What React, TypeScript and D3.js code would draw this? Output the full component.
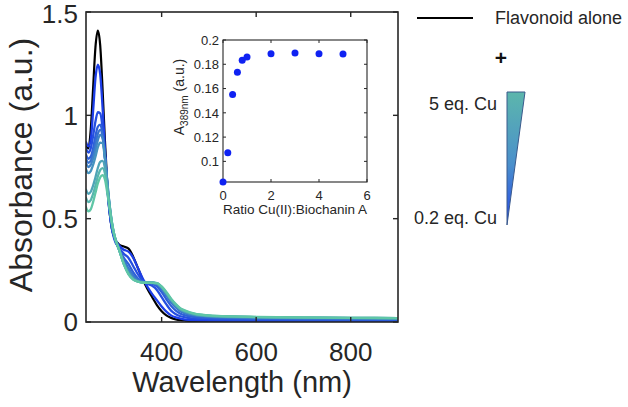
import React from "react";
import * as d3 from "d3";

// ---------- DATA ----------
const wavelengths = [240, 245, 250, 255, 260, 265, 270, 275, 280, 285, 290, 295, 300, 310, 320, 330, 340, 350, 360, 370, 380, 390, 400, 410, 420, 430, 440, 450, 470, 500, 550, 600, 700, 800, 900];

const flavonoidAlone = [0.85, 0.84, 0.93, 1.13, 1.33, 1.41, 1.34, 1.13, 0.88, 0.67, 0.53, 0.45, 0.41, 0.375, 0.365, 0.355, 0.315, 0.26, 0.205, 0.16, 0.12, 0.082, 0.052, 0.032, 0.02, 0.013, 0.009, 0.007, 0.005, 0.004, 0.003, 0.003, 0.002, 0.002, 0.002];

const cu02 = [0.87, 0.85, 0.88, 1.02, 1.18, 1.245, 1.2, 1.04, 0.84, 0.66, 0.53, 0.45, 0.41, 0.37, 0.35, 0.34, 0.31, 0.26, 0.21, 0.17, 0.135, 0.105, 0.075, 0.05, 0.032, 0.022, 0.016, 0.012, 0.009, 0.007, 0.006, 0.005, 0.004, 0.004, 0.004];
const cu04 = [0.84, 0.82, 0.84, 0.9, 0.97, 1.015, 1.01, 0.94, 0.8, 0.65, 0.53, 0.45, 0.4, 0.36, 0.33, 0.31, 0.27, 0.23, 0.2, 0.185, 0.175, 0.155, 0.12, 0.085, 0.055, 0.038, 0.028, 0.022, 0.016, 0.013, 0.011, 0.01, 0.009, 0.009, 0.008];
const cu06 = [0.81, 0.79, 0.8, 0.84, 0.9, 0.945, 0.955, 0.91, 0.8, 0.66, 0.54, 0.46, 0.41, 0.355, 0.31, 0.28, 0.24, 0.21, 0.195, 0.19, 0.185, 0.172, 0.145, 0.11, 0.078, 0.055, 0.04, 0.032, 0.024, 0.019, 0.016, 0.015, 0.013, 0.012, 0.012];
const cu08 = [0.79, 0.77, 0.78, 0.81, 0.86, 0.91, 0.93, 0.9, 0.8, 0.67, 0.55, 0.465, 0.41, 0.35, 0.3, 0.26, 0.225, 0.205, 0.195, 0.192, 0.19, 0.182, 0.16, 0.128, 0.095, 0.07, 0.052, 0.042, 0.031, 0.025, 0.021, 0.019, 0.017, 0.016, 0.015];
const cu10 = [0.77, 0.75, 0.76, 0.79, 0.83, 0.88, 0.905, 0.89, 0.8, 0.68, 0.56, 0.47, 0.415, 0.35, 0.29, 0.25, 0.215, 0.2, 0.193, 0.19, 0.19, 0.184, 0.165, 0.135, 0.102, 0.076, 0.057, 0.046, 0.034, 0.027, 0.023, 0.021, 0.019, 0.018, 0.017];
const cu20 = [0.74, 0.72, 0.73, 0.76, 0.8, 0.845, 0.868, 0.865, 0.79, 0.68, 0.565, 0.475, 0.42, 0.35, 0.285, 0.24, 0.21, 0.197, 0.192, 0.19, 0.19, 0.187, 0.168, 0.138, 0.106, 0.08, 0.06, 0.049, 0.036, 0.029, 0.025, 0.023, 0.02, 0.019, 0.018];
const cu30 = [0.64, 0.62, 0.63, 0.66, 0.7, 0.745, 0.775, 0.78, 0.745, 0.66, 0.565, 0.48, 0.42, 0.35, 0.28, 0.235, 0.207, 0.196, 0.191, 0.19, 0.19, 0.188, 0.17, 0.14, 0.108, 0.082, 0.062, 0.051, 0.038, 0.03, 0.026, 0.024, 0.021, 0.02, 0.019];
const cu40 = [0.6, 0.58, 0.59, 0.62, 0.66, 0.705, 0.735, 0.745, 0.72, 0.645, 0.56, 0.48, 0.42, 0.35, 0.28, 0.232, 0.205, 0.195, 0.19, 0.19, 0.19, 0.188, 0.17, 0.142, 0.11, 0.084, 0.064, 0.053, 0.039, 0.031, 0.027, 0.024, 0.021, 0.02, 0.019];
const cu50 = [0.555, 0.535, 0.545, 0.58, 0.625, 0.67, 0.7, 0.71, 0.69, 0.625, 0.55, 0.475, 0.42, 0.35, 0.28, 0.23, 0.205, 0.195, 0.19, 0.19, 0.19, 0.188, 0.172, 0.145, 0.113, 0.087, 0.066, 0.055, 0.04, 0.032, 0.027, 0.025, 0.022, 0.02, 0.019];

const cuSeries = [cu02, cu04, cu06, cu08, cu10, cu20, cu30, cu40, cu50];

const insetRatio = [0, 0.2, 0.4, 0.6, 0.8, 1, 2, 3, 4, 5];
const insetA389 = [0.083, 0.107, 0.155, 0.1735, 0.1833, 0.186, 0.1887, 0.1893, 0.1887, 0.1884];

const mainXTicks = [400, 600, 800];
const mainYTicks = [0, 0.5, 1, 1.5];
const insetXTicks = [0, 2, 4, 6];
const insetYTicks = [0.1, 0.12, 0.14, 0.16, 0.18, 0.2];

// ---------- STYLE ----------
const FONT = "'Liberation Sans', Arial, Helvetica, sans-serif";
const AXIS = "#262626";
const TEXT = "#262626";
const colorStart = "#1d3ee8";
const colorEnd = "#5fc6a6";

export default function App() {
  const W = 628, H = 407;
  const m = { left: 86, right: 398, top: 12, bottom: 322 };
  const x = d3.scaleLinear().domain([240, 900]).range([m.left, m.right]);
  const y = d3.scaleLinear().domain([0, 1.5]).range([m.bottom, m.top]);

  const ins = { left: 223, right: 367, top: 40, bottom: 182 };
  const ix = d3.scaleLinear().domain([0, 6]).range([ins.left, ins.right]);
  const iy = d3.scaleLinear().domain([0.083, 0.2]).range([ins.bottom, ins.top]);

  const line = (vals: number[]) =>
    d3.line<number>()
      .x((_, i) => x(wavelengths[i]))
      .y((v) => y(v))
      .curve(d3.curveMonotoneX)(vals) || "";

  const colorOf = (i: number) => d3.interpolateRgb(colorStart, colorEnd)(i / (cuSeries.length - 1));
  const tk = 5;

  return (
    <svg width={W} height={H} style={{ position: "absolute", left: 0, top: 0, background: "#fff" }} fontFamily={FONT}>
      <defs>
        <clipPath id="plotclip">
          <rect x={m.left} y={m.top} width={m.right - m.left} height={m.bottom - m.top} />
        </clipPath>
        <linearGradient id="tri" x1="0" y1="0" x2="0" y2="1">
          <stop offset="0" stopColor="#5cb6ac" />
          <stop offset="0.55" stopColor="#4a8fcc" />
          <stop offset="1" stopColor="#2446ea" />
        </linearGradient>
      </defs>

      {/* curves */}
      <g clipPath="url(#plotclip)" fill="none" strokeLinejoin="round" strokeLinecap="round">
        <path d={line(flavonoidAlone)} stroke="#000" strokeWidth={2.2} />
        {cuSeries.map((s, i) => (
          <path key={i} d={line(s)} stroke={colorOf(i)} strokeWidth={2.3} />
        ))}
      </g>

      {/* main frame */}
      <rect x={m.left} y={m.top} width={m.right - m.left} height={m.bottom - m.top} fill="none" stroke={AXIS} strokeWidth={1.6} />
      {mainXTicks.map((t) => (
        <g key={"xt" + t}>
          <line x1={x(t)} x2={x(t)} y1={m.bottom} y2={m.bottom - tk} stroke={AXIS} strokeWidth={1.4} />
          <line x1={x(t)} x2={x(t)} y1={m.top} y2={m.top + tk} stroke={AXIS} strokeWidth={1.4} />
          <text x={x(t)} y={361} textAnchor="middle" fontSize={26} fill={TEXT}>{t}</text>
        </g>
      ))}
      {mainYTicks.map((t) => (
        <g key={"yt" + t}>
          <line x1={m.left} x2={m.left + tk} y1={y(t)} y2={y(t)} stroke={AXIS} strokeWidth={1.4} />
          <line x1={m.right} x2={m.right - tk} y1={y(t)} y2={y(t)} stroke={AXIS} strokeWidth={1.4} />
          <text x={78} y={Math.max(y(t), 14)} dy="0.36em" textAnchor="end" fontSize={26} fill={TEXT}>{t}</text>
        </g>
      ))}
      <text x={242} y={392} textAnchor="middle" fontSize={29} fill={TEXT}>Wavelength (nm)</text>
      <text transform={`translate(32,165) rotate(-90)`} textAnchor="middle" fontSize={32} fill={TEXT}>Absorbance (a.u.)</text>

      {/* inset */}
      <rect x={ins.left} y={ins.top} width={ins.right - ins.left} height={ins.bottom - ins.top} fill="#fff" stroke={AXIS} strokeWidth={1.1} />
      {insetXTicks.map((t) => (
        <g key={"ixt" + t}>
          <line x1={ix(t)} x2={ix(t)} y1={ins.bottom} y2={ins.bottom - 3} stroke={AXIS} strokeWidth={1} />
          <line x1={ix(t)} x2={ix(t)} y1={ins.top} y2={ins.top + 3} stroke={AXIS} strokeWidth={1} />
          <text x={ix(t)} y={200} textAnchor="middle" fontSize={13} fill={TEXT}>{t}</text>
        </g>
      ))}
      {insetYTicks.map((t) => (
        <g key={"iyt" + t}>
          <line x1={ins.left} x2={ins.left + 3} y1={iy(t)} y2={iy(t)} stroke={AXIS} strokeWidth={1} />
          <line x1={ins.right} x2={ins.right - 3} y1={iy(t)} y2={iy(t)} stroke={AXIS} strokeWidth={1} />
          <text x={219} y={iy(t)} dy="0.36em" textAnchor="end" fontSize={13} fill={TEXT}>{d3.format("")(t)}</text>
        </g>
      ))}
      {insetRatio.map((r, i) => (
        <circle key={"p" + i} cx={ix(r)} cy={iy(insetA389[i])} r={3.5} fill="#0f22f2" />
      ))}
      <text x={295} y={214} textAnchor="middle" fontSize={13.5} fill={TEXT}>Ratio Cu(II):Biochanin A</text>
      <text transform={`translate(184,97) rotate(-90)`} textAnchor="middle" fontSize={14} fill={TEXT}>
        A<tspan fontSize={10} dy={4}>389nm</tspan><tspan dy={-4}> (a.u.)</tspan>
      </text>

      {/* legend */}
      <line x1={417} x2={473} y1={18} y2={18} stroke="#000" strokeWidth={2.2} />
      <text x={495} y={18} dy="0.36em" fontSize={18} fill={TEXT}>Flavonoid alone</text>
      <text x={501} y={57} dy="0.36em" textAnchor="middle" fontSize={21} fontWeight="bold" fill="#111">+</text>
      <text x={497} y={104} dy="0.36em" textAnchor="end" fontSize={18} fill={TEXT}>5 eq. Cu</text>
      <text x={497} y={218} dy="0.36em" textAnchor="end" fontSize={18} fill={TEXT}>0.2 eq. Cu</text>
      <path d="M507,92 L525,92 L507,225 Z" fill="url(#tri)" stroke="#3a5a8c" strokeWidth={1} strokeLinejoin="miter" />
    </svg>
  );
}
